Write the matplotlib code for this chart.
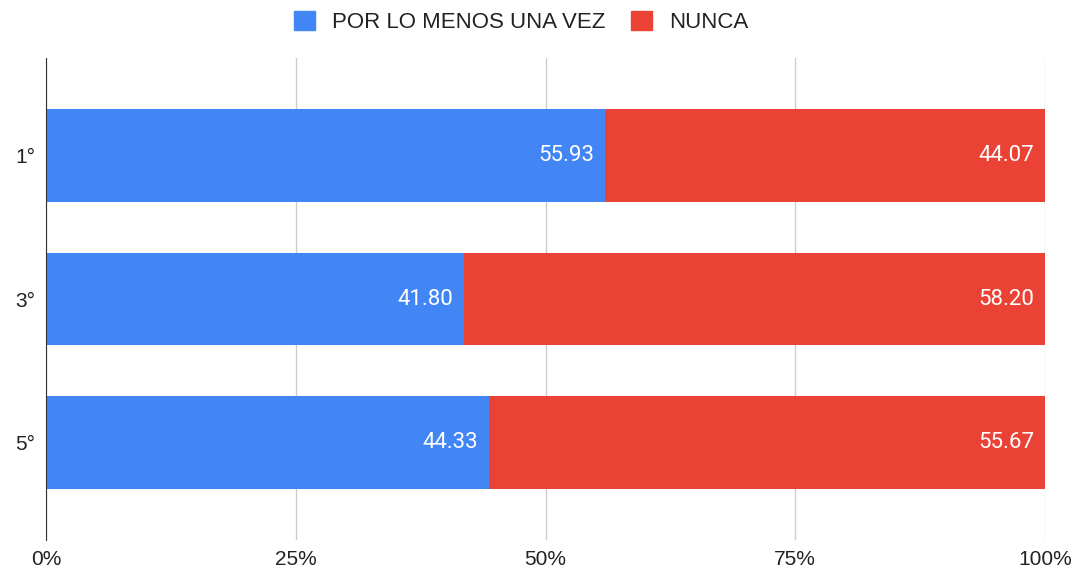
import matplotlib
matplotlib.use("Agg")
import matplotlib.pyplot as plt
from matplotlib.patches import Patch

plt.rcParams['font.family'] = ['Liberation Sans', 'DejaVu Sans']

categories = ["1°", "3°", "5°"]
por_lo_menos = [55.93, 41.80, 44.33]
nunca = [44.07, 58.20, 55.67]
series_names = ["POR LO MENOS UNA VEZ", "NUNCA"]
colors = ["#4285F4", "#EA4335"]
xticks = [0, 25, 50, 75, 100]
xticklabels = ["0%", "25%", "50%", "75%", "100%"]

fig = plt.figure(figsize=(10.77, 5.72), dpi=100)
ax = fig.add_axes([46/1077, 1-540/572, (1045-46)/1077, (540-58)/572])

y = list(range(len(categories)))
h = 0.65
ax.barh(y, por_lo_menos, height=h, color=colors[0], zorder=3)
ax.barh(y, nunca, left=por_lo_menos, height=h, color=colors[1], zorder=3)

for i in y:
    ax.text(por_lo_menos[i] - 1.05, i, f"{por_lo_menos[i]:.2f}", color="white",
            ha="right", va="center", fontsize=16, family=['Roboto', 'DejaVu Sans'], zorder=4)
    ax.text(por_lo_menos[i] + nunca[i] - 1.05, i, f"{nunca[i]:.2f}", color="white",
            ha="right", va="center", fontsize=16, family=['Roboto', 'DejaVu Sans'], zorder=4)

ax.set_xlim(0, 100)
ax.set_ylim(2 + 0.685, -0.685)
ax.set_yticks(y)
ax.set_yticklabels(categories, fontsize=15, color="#222222")
ax.set_xticks(xticks)
ax.set_xticklabels(xticklabels, fontsize=15, color="#222222")
ax.tick_params(axis="y", length=0, pad=8)
ax.tick_params(axis="x", length=0, pad=7)
ax.xaxis.grid(True, color="#CCCCCC", linewidth=1, zorder=0)
for s in ["top", "right", "bottom"]:
    ax.spines[s].set_visible(False)
ax.spines["left"].set_color("#333333")
ax.spines["left"].set_zorder(5)

handles = [Patch(facecolor=c, edgecolor=c) for c in colors]
fig.legend(handles, series_names, loc="center", bbox_to_anchor=(0.484, 1-22/572),
           ncol=2, frameon=False, fontsize=16, handlelength=0.95, handleheight=0.95,
           columnspacing=1.15, handletextpad=0.75, labelcolor="#222222")

fig.savefig("out.png", dpi=100)
